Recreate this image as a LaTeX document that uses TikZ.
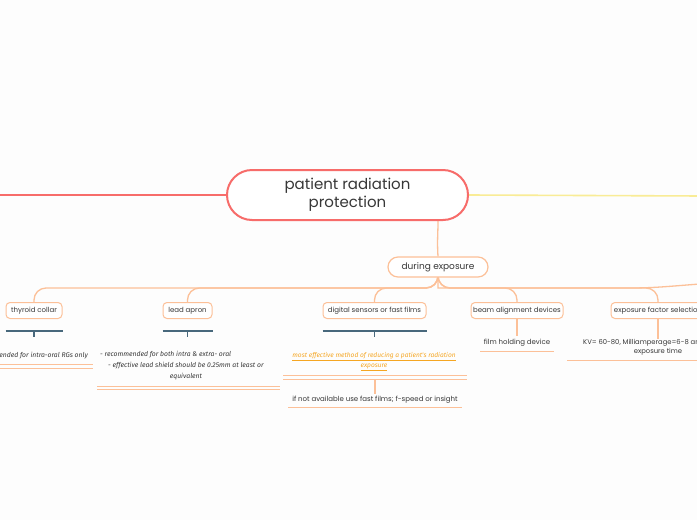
\documentclass[tikz,border=0pt]{standalone}
\usepackage{fontspec}
\setmainfont{Poppins}
\newfontfamily\notefont{Fira Sans}
\usetikzlibrary{backgrounds}
\definecolor{mainred}{RGB}{247,108,106}
\definecolor{lineyel}{RGB}{249,236,150}
\definecolor{peach}{RGB}{252,192,152}
\definecolor{slate}{RGB}{72,104,124}
\definecolor{orangetxt}{RGB}{245,166,35}
\definecolor{txt}{RGB}{55,55,55}
\definecolor{bgcol}{RGB}{253,253,253}
\begin{document}
\begin{tikzpicture}[x=1pt,y=-1pt,
  mainbox/.style={draw=mainred,line width=2pt,fill=white,rounded corners=25pt,
    minimum width=241pt,minimum height=50pt,inner sep=0pt,align=center,
    font=\fontsize{15}{18}\selectfont,text=txt},
  midbox/.style={draw=peach,line width=1.2pt,fill=white,rounded corners=10pt,
    minimum width=100pt,minimum height=20pt,inner sep=0pt,
    font=\fontsize{9}{11}\selectfont,text=txt},
  childbox/.style={draw=peach,line width=1pt,fill=white,rounded corners=4pt,
    minimum height=16pt,inner sep=0pt,font=\fontsize{7}{9}\selectfont,text=txt},
  leaf/.style={inner sep=0pt,font=\fontsize{7}{9}\selectfont,text=txt,align=center},
  note/.style={inner sep=0pt,font=\notefont\itshape\fontsize{6.8}{11}\selectfont,text=txt},
  onote/.style={inner sep=0pt,font=\notefont\itshape\fontsize{6.6}{11}\selectfont,text=orangetxt,align=center},
  conn/.style={draw=peach,line width=1.3pt},
  branch/.style={conn,rounded corners=12pt},
  uline/.style={draw=peach,line width=1pt},
  tbar/.style={draw=slate,line width=1.3pt}]
\useasboundingbox (0,0) rectangle (697,520);
\clip (0,0) rectangle (697,520);

% nodes
\node[mainbox] (main) at (347.5,195) {patient radiation\\protection};
\node[midbox] (during) at (438,267) {during exposure};

\node[childbox,minimum width=56pt] (thy) at (34,310.5) {thyroid collar};
\node[childbox,minimum width=49pt] (lead) at (187.5,310.5) {lead apron};
\node[childbox,minimum width=103pt] (dig) at (374.5,310.5) {digital sensors or fast films};
\node[childbox,minimum width=92pt] (beam) at (517,310.5) {beam alignment devices};
\node[childbox,minimum width=94pt] (expo) at (658,310.5) {exposure factor selection};
\coordinate (offr) at (760,281);
\coordinate (lend) at (-5,195);
\coordinate (rend) at (702,196);
\coordinate (bus) at (438,288);

\node[note,anchor=east] (thynote) at (88,356) {recommended for intra-oral RGs only};
\node[note,anchor=west] (lead1) at (100,355) {- recommended for both intra \& extra- oral};
\node[note,anchor=west] (lead2) at (108,366) {- effective lead shield should be 0.25mm at least or};
\node[note] (lead3) at (186,377) {equivalent};

\node[onote] (most) at (374,361.5) {\underline{most effective method of reducing a patient's radiation}\\[-1pt]\underline{exposure}};
\coordinate (mostbar) at (375,379);
\node[leaf] (ifnot) at (375,400) {if not available use fast films; f-speed or insight};

\node[leaf] (film) at (517,343) {film holding device};
\node[leaf,anchor=west,font=\fontsize{6.8}{9}\selectfont] (kv1) at (583,343) {KV= 60-80, Milliamperage=6-8 and};
\node[leaf,font=\fontsize{6.8}{9}\selectfont] (kv2) at (658,352) {exposure time};

\begin{scope}[on background layer]
  \fill[bgcol] (0,0) rectangle (697,520);
  \draw[mainred,line width=1.6pt] (main.west) -- (lend);
  \draw[lineyel,line width=1.6pt] (main.east) -- (rend);
  \draw[conn] (main.south -| during.north) .. controls +(0,14) and +(-1,-16) .. (during.north);
  \foreach \c in {thy,lead,dig,beam,expo}{
    \draw[branch] (during.south) -- (bus) -| (\c.north);
  }
  \draw[conn] (during.south) -- (bus) -- (630,288) .. controls (670,288) and (690,283) .. (offr);
  \draw[conn] (beam.south) -- ([yshift=3pt]film.north);
  \draw[conn] (expo.south) -- (expo.south |- kv1.north);
  \draw[conn] (mostbar) -- ([yshift=2pt]ifnot.north);
\end{scope}

% T bars
\foreach \n in {thy,lead,dig}{
  \draw[tbar] ([yshift=-12pt]\n.south west) -- ([yshift=-12pt]\n.south east);
  \draw[tbar] ([yshift=-12pt]\n.south) -- ++(0,6);
}

% underlines
\draw[uline] (-5,364) -- (93,364);
\draw[uline] (-5,368) -- (93,368);
\draw[uline] (97,386) -- (280,386);
\draw[uline] (97,389.5) -- (280,389.5);
\draw[uline] (283,375) -- (467,375);
\draw[uline] (283,379) -- (467,379);
\draw[uline] (288,407) -- (462,407);
\draw[uline] (480,351) -- (554,351);
\draw[uline] (567,360) -- (749,360);
\end{tikzpicture}
\end{document}
